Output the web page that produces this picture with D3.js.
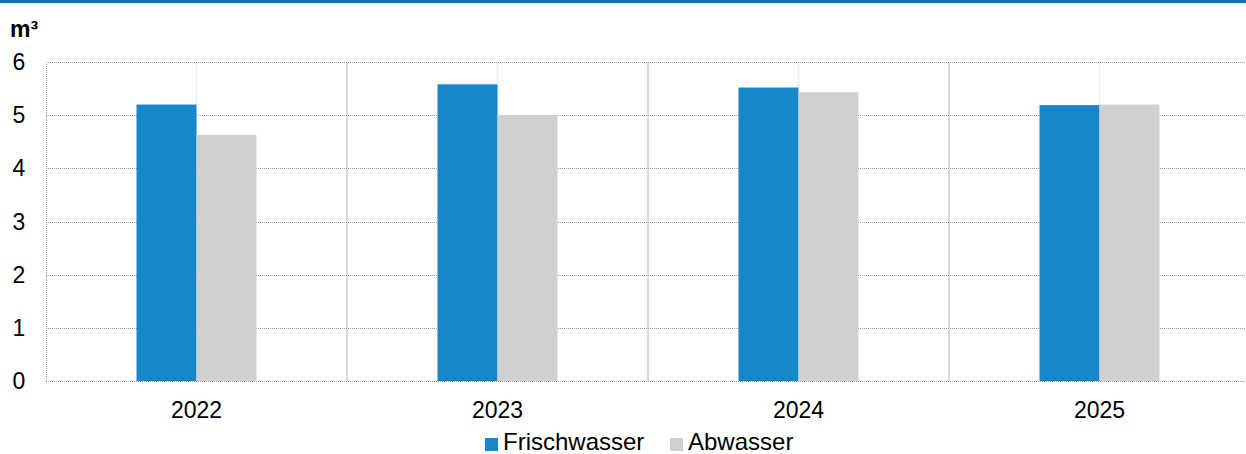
<!DOCTYPE html>
<html>
<head>
<meta charset="utf-8">
<script src="https://cdn.jsdelivr.net/npm/d3@7"></script>
<style>
  body { margin: 0; background: #fff; }
  svg { display: block; font-family: "Liberation Sans", Arial, sans-serif; }
</style>
</head>
<body>
<svg width="1246" height="454"></svg>
<script>
var years = ["2022", "2023", "2024", "2025"];
var frischwasser = [5.20, 5.58, 5.52, 5.19];
var abwasser = [4.63, 5.00, 5.43, 5.20];
var yTicks = [0, 1, 2, 3, 4, 5, 6];
var seriesNames = ["Frischwasser", "Abwasser"];
var colors = ["#1688c9", "#d0d0d0"];

var svg = d3.select("svg");

// blue header line
svg.append("rect").attr("x", 0).attr("y", 0).attr("width", 1246).attr("height", 3).attr("fill", "#0a70b5");

var plotL = 46, plotR = 1250, plotT = 62, plotB = 381;
var xScale = d3.scaleBand().domain(years).range([plotL, plotR]);
var yScale = d3.scaleLinear().domain([0, 6]).range([plotB, plotT]);
var barW = 60;

// unit label
svg.append("text").attr("x", 10).attr("y", 37).attr("font-size", "23px").attr("font-weight", "bold").text("m³");

var g = svg.append("g");

// category separators
g.selectAll(".sep").data(years.slice(1)).enter().append("line")
  .attr("x1", function(d){ return xScale(d); }).attr("x2", function(d){ return xScale(d); })
  .attr("y1", plotT).attr("y2", plotB)
  .attr("stroke", "#d9d9d9").attr("stroke-width", 2);

// faint center lines
g.selectAll(".mid").data(years).enter().append("line")
  .attr("x1", function(d){ return xScale(d) + xScale.bandwidth()/2; })
  .attr("x2", function(d){ return xScale(d) + xScale.bandwidth()/2; })
  .attr("y1", plotT).attr("y2", plotB)
  .attr("stroke", "#f0f0f0").attr("stroke-width", 2);

// horizontal grid
g.selectAll(".grid").data(yTicks).enter().append("line")
  .attr("x1", plotL).attr("x2", 1246)
  .attr("y1", function(d){ return Math.round(yScale(d)) + 0.5; })
  .attr("y2", function(d){ return Math.round(yScale(d)) + 0.5; })
  .attr("stroke", "#9a9a9a").attr("stroke-width", 1).attr("stroke-dasharray", "1,1");

// left axis dotted
g.append("line").attr("x1", plotL + 0.5).attr("x2", plotL + 0.5).attr("y1", plotT).attr("y2", plotB)
  .attr("stroke", "#9a9a9a").attr("stroke-width", 1).attr("stroke-dasharray", "1,1");

// bars
var allSeries = [frischwasser, abwasser];
allSeries.forEach(function(vals, s){
  g.selectAll(".bar" + s).data(years).enter().append("rect")
    .attr("x", function(d){ return xScale(d) + xScale.bandwidth()/2 - barW + s*barW; })
    .attr("y", function(d, i){ return yScale(vals[i]); })
    .attr("width", barW)
    .attr("height", function(d, i){ return plotB - yScale(vals[i]); })
    .attr("fill", colors[s]);
});

// y tick labels
g.selectAll(".ylab").data(yTicks).enter().append("text")
  .attr("x", 19).attr("y", function(d){ return yScale(d) + 8; })
  .attr("text-anchor", "middle").attr("font-size", "23px").attr("fill", "#000")
  .text(function(d){ return d; });

// x labels
g.selectAll(".xlab").data(years).enter().append("text")
  .attr("x", function(d){ return xScale(d) + xScale.bandwidth()/2; })
  .attr("y", 418).attr("text-anchor", "middle").attr("font-size", "23px").attr("fill", "#000")
  .text(function(d){ return d; });

// legend
var legX = [485, 670];
seriesNames.forEach(function(n, i){
  svg.append("rect").attr("x", legX[i]).attr("y", 438).attr("width", 13).attr("height", 13).attr("fill", colors[i]);
  svg.append("text").attr("x", legX[i] + 18).attr("y", 450).attr("font-size", "24px").attr("fill", "#000").text(n);
});
</script>
</body>
</html>
